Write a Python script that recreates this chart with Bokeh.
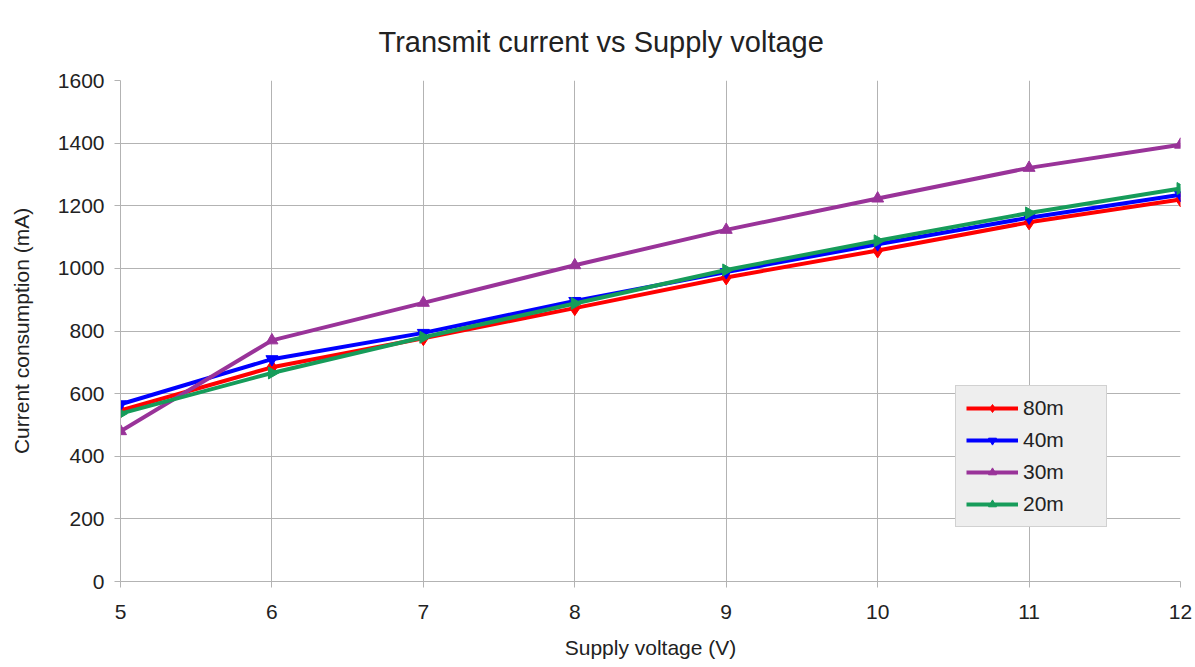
import math
from bokeh.plotting import figure
from bokeh.models import Legend, LegendItem, Range1d, FixedTicker, Title
from bokeh.embed import file_html
from bokeh.resources import INLINE

voltage = [5, 6, 7, 8, 9, 10, 11, 12]
band_80m = [546, 684, 777, 873, 971, 1057, 1147, 1220]
band_40m = [566, 710, 794, 896, 988, 1077, 1162, 1235]
band_30m = [480, 770, 890, 1010, 1123, 1223, 1321, 1395]
band_20m = [536, 666, 780, 888, 995, 1088, 1177, 1255]

series = [
    ("80m", band_80m, "#ff0000", "diamond", 0.0, 15),
    ("40m", band_40m, "#0000ff", "inverted_triangle", 0.0, 12),
    ("30m", band_30m, "#993399", "triangle", 0.0, 12),
    ("20m", band_20m, "#169c5a", "triangle", -math.pi / 2, 12),
]

FONT = "Liberation Sans"
TXT = "#222222"

p = figure(width=1195, height=667, output_backend="svg", toolbar_location=None,
           x_range=Range1d(5, 12), y_range=Range1d(0, 1600),
           min_border_left=120, min_border_right=15, min_border_top=80, min_border_bottom=86)
p.outline_line_color = None
p.background_fill_color = "white"

p.add_layout(Title(text="Transmit current vs Supply voltage", align="left", offset=258,
                   vertical_align="bottom", text_font=FONT, text_font_size="29px",
                   text_font_style="normal", text_color=TXT, standoff=45), "above")

for ax in (p.xaxis[0], p.yaxis[0]):
    ax.axis_line_color = "#b3b3b3"
    ax.major_tick_line_color = "#b3b3b3"
    ax.minor_tick_line_color = None
    ax.major_tick_in = 0
    ax.major_tick_out = 6
    ax.major_label_text_font = FONT
    ax.major_label_text_font_size = "21px"
    ax.major_label_text_color = TXT
    ax.axis_label_text_font = FONT
    ax.axis_label_text_font_style = "normal"
    ax.axis_label_text_color = TXT
    ax.axis_label_text_font_size = "21px"

p.xaxis.ticker = FixedTicker(ticks=voltage)
p.yaxis.ticker = FixedTicker(ticks=list(range(0, 1601, 200)))
p.xaxis.major_label_standoff = 17
p.yaxis.major_label_standoff = 10
p.xaxis.axis_label = "Supply voltage (V)"
p.xaxis.axis_label_standoff = 14
p.yaxis.axis_label = "Current consumption (mA)"
p.yaxis.axis_label_standoff = 22

p.xgrid.grid_line_color = "#b3b3b3"
p.ygrid.grid_line_color = "#b3b3b3"

items = []
for name, vals, col, marker, ang, size in series:
    r1 = p.line(voltage, vals, line_color=col, line_width=4)
    r2 = p.scatter(voltage, vals, marker=marker, size=size, angle=ang,
                   fill_color=col, line_color=col)
    items.append(LegendItem(label=name, renderers=[r1, r2]))

legend = Legend(items=items, location=(835, 54), background_fill_color="#eeeeee",
                background_fill_alpha=1.0, border_line_color="#b3b3b3",
                label_text_font=FONT, label_text_font_size="21px", label_text_color=TXT,
                glyph_width=52, glyph_height=20, spacing=8, padding=10, margin=0,
                label_standoff=5, label_width=73)
p.add_layout(legend, "center")

open("out.html", "w").write(file_html(p, INLINE))
